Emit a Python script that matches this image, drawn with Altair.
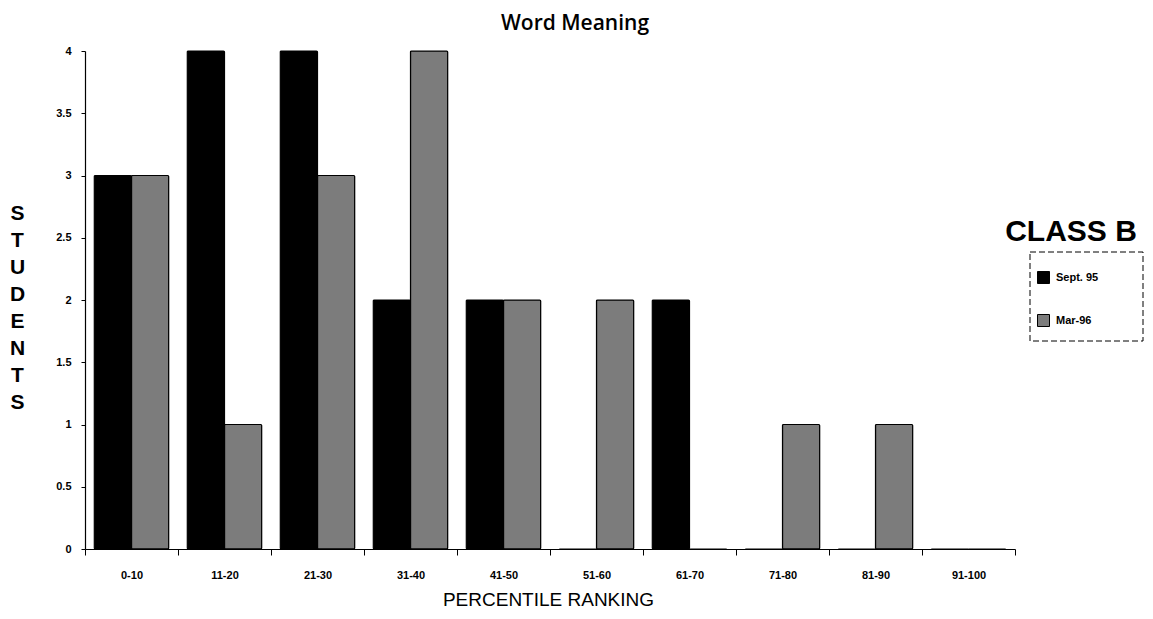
import altair as alt
import pandas as pd

categories = ["0-10", "11-20", "21-30", "31-40", "41-50", "51-60", "61-70", "71-80", "81-90", "91-100"]
series_names = ["Sept. 95", "Mar-96"]
sept95 = [3, 4, 4, 2, 2, 0, 2, 0, 0, 0]
mar96 = [3, 1, 3, 4, 2, 2, 0, 1, 1, 0]
y_ticks = [0, 0.5, 1, 1.5, 2, 2.5, 3, 3.5, 4]

rows = []
for i, c in enumerate(categories):
    rows.append({"cat": c, "series": series_names[0], "value": sept95[i]})
    rows.append({"cat": c, "series": series_names[1], "value": mar96[i]})
df = pd.DataFrame(rows)

FONT = "Liberation Sans"

bars = alt.Chart(df).mark_bar(stroke="black", strokeWidth=1.2, cornerRadius=1).encode(
    x=alt.X("cat:N", sort=categories,
            scale=alt.Scale(paddingInner=0, paddingOuter=0),
            axis=alt.Axis(title="PERCENTILE RANKING", labelAngle=0, tickBand="extent",
                          labelFont=FONT, labelFontSize=11, labelFontWeight="bold",
                          labelColor="black", labelPadding=14, tickSize=6, tickColor="black",
                          domainColor="black", domainWidth=1.2,
                          titleFont=FONT, titleFontSize=19, titleFontWeight="normal",
                          titleColor="black", titlePadding=10, titleX=463)),
    xOffset=alt.XOffset("series:N", sort=series_names,
                        scale=alt.Scale(paddingInner=0, paddingOuter=0.25)),
    y=alt.Y("value:Q", scale=alt.Scale(domain=[0, 4], nice=False),
            axis=alt.Axis(values=y_ticks, format="~g", grid=False, title=list("STUDENTS"),
                          labelFont=FONT, labelFontSize=11, labelFontWeight="bold",
                          labelColor="black", labelPadding=10, tickSize=4, tickColor="black",
                          domainColor="black", domainWidth=1.2,
                          titleFont=FONT, titleFontSize=21, titleFontWeight="bold",
                          titleColor="black", titleAngle=0, titleAlign="center",
                          titleBaseline="middle", titleLineHeight=27,
                          titleX=-68, titleY=162)),
    color=alt.Color("series:N", sort=series_names,
                    scale=alt.Scale(domain=series_names, range=["#000000", "#7c7c7c"]),
                    legend=alt.Legend(title=None, orient="none", legendX=952, legendY=220,
                                      symbolType="square", symbolSize=144,
                                      symbolStrokeColor="black", symbolStrokeWidth=1,
                                      labelFont=FONT, labelFontSize=11, labelFontWeight="bold",
                                      labelColor="black", labelOffset=6, rowPadding=26,
                                      padding=0)),
)

deco = pd.DataFrame({"k": [0]})
box = alt.Chart(deco).mark_rect(fill="white", fillOpacity=0, stroke="black",
                                strokeWidth=1, strokeDash=[6, 3]).encode(
    x=alt.value(945), x2=alt.value(1058), y=alt.value(201), y2=alt.value(290))
class_label = alt.Chart(deco).mark_text(font=FONT, fontSize=30, fontWeight="bold",
                                        color="black", align="center", baseline="middle").encode(
    x=alt.value(986), y=alt.value(181), text=alt.value("CLASS B"))

chart = alt.layer(box, bars, class_label).properties(
    width=930, height=498,
    padding={"left": 77, "top": 43, "right": 130, "bottom": 62},
    autosize=alt.AutoSizeParams(type="none"),
    background="white",
    title=alt.TitleParams("Word Meaning", font="Open Sans", fontSize=21, fontWeight=600,
                          color="black", anchor="middle", frame="group", offset=11, dx=25),
).configure_view(stroke=None, strokeWidth=0)

chart.save("out.html", embed_options={"renderer": "svg", "actions": False})
